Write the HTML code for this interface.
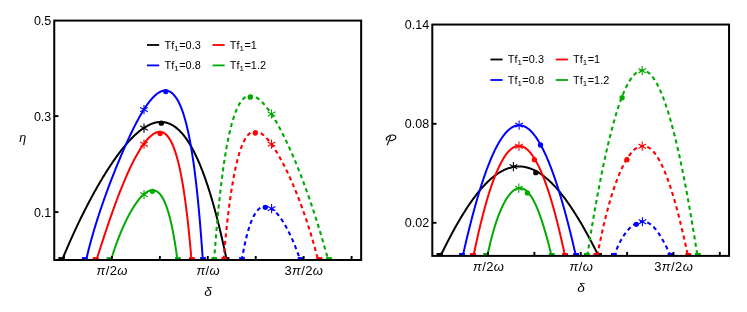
<!DOCTYPE html>
<html><head><meta charset="utf-8"><title>plot</title>
<style>html,body{margin:0;padding:0;background:#fff;}body{width:747px;height:312px;overflow:hidden;position:relative;font-family:"Liberation Sans",sans-serif;}</style>
</head><body>
<svg width="747" height="312" viewBox="0 0 747 312" style="position:absolute;left:0;top:0;will-change:transform;opacity:0.999">
<clipPath id="cl"><rect x="54.25" y="20.6" width="306.9" height="239.4"/></clipPath>
<g clip-path="url(#cl)">
<path d="M62.10 260.00 L62.11 259.99 L62.12 259.94 L62.15 259.87 L62.20 259.76 L62.25 259.63 L62.32 259.47 L62.40 259.28 L62.49 259.06 L62.59 258.81 L62.70 258.53 L62.83 258.22 L62.97 257.89 L63.12 257.52 L63.28 257.13 L63.46 256.71 L63.65 256.26 L63.84 255.78 L64.05 255.28 L64.28 254.75 L64.51 254.19 L64.76 253.60 L65.01 252.99 L65.28 252.36 L65.56 251.69 L65.86 251.00 L66.16 250.29 L66.47 249.55 L66.80 248.79 L67.14 248.00 L67.49 247.19 L67.85 246.36 L68.22 245.50 L68.61 244.62 L69.00 243.72 L69.41 242.79 L69.82 241.85 L70.25 240.88 L70.69 239.89 L71.14 238.89 L71.60 237.86 L72.07 236.81 L72.55 235.75 L73.04 234.66 L73.55 233.56 L74.06 232.44 L74.58 231.31 L75.12 230.15 L75.66 228.99 L76.21 227.80 L76.78 226.60 L77.35 225.38 L77.94 224.16 L78.53 222.91 L79.13 221.66 L79.75 220.39 L80.37 219.10 L81.00 217.81 L81.64 216.50 L82.29 215.19 L82.95 213.86 L83.62 212.52 L84.30 211.18 L84.98 209.82 L85.68 208.46 L86.38 207.08 L87.09 205.70 L87.81 204.32 L88.54 202.92 L89.28 201.52 L90.03 200.12 L90.78 198.71 L91.54 197.29 L92.31 195.87 L93.09 194.45 L93.87 193.03 L94.66 191.60 L95.46 190.17 L96.27 188.74 L97.08 187.30 L97.90 185.87 L98.73 184.44 L99.56 183.01 L100.40 181.58 L101.25 180.15 L102.10 178.72 L102.96 177.30 L103.83 175.88 L104.70 174.46 L105.58 173.05 L106.46 171.64 L107.35 170.24 L108.24 168.85 L109.14 167.46 L110.05 166.09 L110.96 164.72 L111.87 163.35 L112.79 162.00 L113.71 160.66 L114.64 159.33 L115.58 158.01 L116.51 156.70 L117.45 155.41 L118.40 154.13 L119.35 152.86 L120.30 151.61 L121.26 150.37 L122.22 149.15 L123.18 147.95 L124.15 146.76 L125.11 145.60 L126.09 144.45 L127.06 143.32 L128.04 142.21 L129.02 141.13 L130.00 140.06 L130.98 139.02 L131.97 138.01 L132.96 137.01 L133.95 136.04 L134.94 135.10 L135.93 134.19 L136.92 133.30 L137.92 132.44 L138.91 131.60 L139.91 130.80 L140.91 130.03 L141.90 129.29 L142.90 128.58 L143.90 127.90 L144.90 127.26 L145.90 126.65 L146.90 126.07 L147.89 125.53 L148.89 125.03 L149.89 124.56 L150.88 124.13 L151.88 123.73 L152.87 123.38 L153.86 123.06 L154.85 122.79 L155.84 122.55 L156.83 122.36 L157.82 122.20 L158.80 122.09 L159.78 122.02 L160.76 121.99 L161.74 122.01 L162.71 122.07 L163.69 122.17 L164.65 122.32 L165.62 122.51 L166.58 122.75 L167.54 123.03 L168.50 123.36 L169.45 123.73 L170.40 124.15 L171.35 124.61 L172.29 125.12 L173.22 125.67 L174.16 126.28 L175.09 126.92 L176.01 127.61 L176.93 128.35 L177.84 129.13 L178.75 129.96 L179.66 130.83 L180.56 131.75 L181.45 132.71 L182.34 133.71 L183.22 134.76 L184.10 135.85 L184.97 136.98 L185.84 138.16 L186.70 139.37 L187.55 140.63 L188.40 141.92 L189.24 143.26 L190.07 144.63 L190.90 146.04 L191.72 147.48 L192.53 148.96 L193.34 150.48 L194.14 152.03 L194.93 153.61 L195.71 155.22 L196.49 156.86 L197.26 158.54 L198.02 160.23 L198.77 161.96 L199.52 163.71 L200.26 165.49 L200.99 167.28 L201.71 169.10 L202.42 170.94 L203.12 172.80 L203.82 174.67 L204.50 176.56 L205.18 178.46 L205.85 180.38 L206.51 182.30 L207.16 184.24 L207.80 186.18 L208.43 188.13 L209.05 190.09 L209.67 192.04 L210.27 194.00 L210.86 195.96 L211.45 197.91 L212.02 199.86 L212.59 201.81 L213.14 203.75 L213.68 205.68 L214.22 207.60 L214.74 209.50 L215.25 211.40 L215.76 213.28 L216.25 215.14 L216.73 216.98 L217.20 218.80 L217.66 220.60 L218.11 222.38 L218.55 224.13 L218.98 225.86 L219.39 227.56 L219.80 229.23 L220.19 230.87 L220.58 232.47 L220.95 234.04 L221.31 235.58 L221.66 237.08 L222.00 238.54 L222.33 239.97 L222.64 241.35 L222.94 242.69 L223.24 243.99 L223.52 245.25 L223.79 246.46 L224.04 247.62 L224.29 248.74 L224.52 249.81 L224.75 250.83 L224.96 251.80 L225.15 252.71 L225.34 253.58 L225.52 254.40 L225.68 255.16 L225.83 255.87 L225.97 256.52 L226.10 257.12 L226.21 257.67 L226.31 258.15 L226.40 258.58 L226.48 258.96 L226.55 259.28 L226.60 259.54 L226.65 259.74 L226.68 259.88 L226.69 259.97 L226.70 260.00" stroke="#000000" stroke-width="2.0" fill="none" stroke-linejoin="round"/>
<rect x="58.30" y="257.10" width="5.8" height="5.8" fill="#000000"/>
<rect x="223.60" y="257.10" width="5.8" height="5.8" fill="#000000"/>
<path d="M86.10 260.00 L86.10 259.98 L86.12 259.93 L86.14 259.84 L86.17 259.71 L86.21 259.55 L86.25 259.35 L86.31 259.11 L86.37 258.84 L86.45 258.54 L86.53 258.20 L86.62 257.82 L86.72 257.41 L86.82 256.97 L86.94 256.49 L87.06 255.98 L87.20 255.44 L87.34 254.87 L87.49 254.26 L87.64 253.62 L87.81 252.96 L87.98 252.26 L88.17 251.54 L88.36 250.78 L88.56 250.00 L88.76 249.20 L88.98 248.36 L89.20 247.50 L89.43 246.61 L89.67 245.70 L89.92 244.77 L90.18 243.81 L90.44 242.83 L90.71 241.83 L90.99 240.81 L91.28 239.76 L91.58 238.70 L91.88 237.61 L92.19 236.51 L92.51 235.39 L92.83 234.25 L93.17 233.10 L93.51 231.93 L93.86 230.74 L94.21 229.54 L94.58 228.32 L94.95 227.09 L95.33 225.85 L95.71 224.59 L96.11 223.32 L96.51 222.03 L96.91 220.74 L97.33 219.43 L97.75 218.11 L98.18 216.78 L98.61 215.44 L99.05 214.09 L99.50 212.73 L99.95 211.36 L100.42 209.99 L100.88 208.60 L101.36 207.20 L101.84 205.80 L102.32 204.39 L102.82 202.97 L103.32 201.54 L103.82 200.11 L104.33 198.67 L104.85 197.22 L105.37 195.76 L105.90 194.30 L106.43 192.84 L106.97 191.36 L107.52 189.89 L108.07 188.40 L108.63 186.91 L109.19 185.42 L109.75 183.92 L110.32 182.42 L110.90 180.91 L111.48 179.40 L112.07 177.89 L112.66 176.37 L113.26 174.85 L113.86 173.32 L114.46 171.80 L115.07 170.27 L115.68 168.74 L116.30 167.21 L116.92 165.67 L117.55 164.14 L118.18 162.60 L118.81 161.07 L119.45 159.53 L120.09 158.00 L120.74 156.47 L121.39 154.94 L122.04 153.41 L122.69 151.88 L123.35 150.36 L124.01 148.84 L124.68 147.32 L125.35 145.81 L126.02 144.31 L126.69 142.81 L127.36 141.32 L128.04 139.83 L128.72 138.36 L129.40 136.89 L130.09 135.43 L130.78 133.98 L131.47 132.54 L132.16 131.11 L132.85 129.69 L133.54 128.29 L134.24 126.90 L134.94 125.52 L135.64 124.16 L136.34 122.82 L137.04 121.49 L137.74 120.17 L138.44 118.88 L139.15 117.60 L139.85 116.35 L140.56 115.11 L141.27 113.89 L141.97 112.70 L142.68 111.53 L143.39 110.38 L144.10 109.26 L144.80 108.16 L145.51 107.09 L146.22 106.04 L146.93 105.02 L147.63 104.03 L148.34 103.07 L149.05 102.14 L149.75 101.24 L150.46 100.37 L151.16 99.53 L151.86 98.72 L152.56 97.95 L153.26 97.21 L153.96 96.50 L154.66 95.84 L155.36 95.20 L156.05 94.61 L156.74 94.05 L157.43 93.53 L158.12 93.05 L158.81 92.61 L159.50 92.21 L160.18 91.85 L160.86 91.53 L161.54 91.25 L162.21 91.02 L162.88 90.83 L163.55 90.68 L164.22 90.58 L164.89 90.52 L165.55 90.52 L166.21 90.55 L166.86 90.64 L167.51 90.77 L168.16 90.95 L168.81 91.18 L169.45 91.46 L170.09 91.78 L170.72 92.16 L171.35 92.59 L171.98 93.08 L172.60 93.61 L173.22 94.20 L173.83 94.84 L174.44 95.53 L175.04 96.28 L175.64 97.09 L176.24 97.95 L176.83 98.86 L177.42 99.83 L178.00 100.86 L178.58 101.94 L179.15 103.08 L179.71 104.28 L180.27 105.54 L180.83 106.85 L181.38 108.22 L181.93 109.65 L182.47 111.14 L183.00 112.68 L183.53 114.29 L184.05 115.95 L184.57 117.67 L185.08 119.45 L185.58 121.28 L186.08 123.17 L186.58 125.12 L187.06 127.12 L187.54 129.18 L188.02 131.29 L188.48 133.46 L188.95 135.68 L189.40 137.95 L189.85 140.27 L190.29 142.64 L190.72 145.06 L191.15 147.52 L191.57 150.03 L191.99 152.57 L192.39 155.16 L192.79 157.79 L193.19 160.45 L193.57 163.15 L193.95 165.88 L194.32 168.63 L194.69 171.42 L195.04 174.22 L195.39 177.04 L195.73 179.88 L196.07 182.74 L196.39 185.60 L196.71 188.46 L197.02 191.33 L197.32 194.20 L197.62 197.06 L197.91 199.91 L198.19 202.75 L198.46 205.56 L198.72 208.36 L198.98 211.12 L199.23 213.86 L199.47 216.56 L199.70 219.21 L199.92 221.82 L200.14 224.38 L200.34 226.89 L200.54 229.33 L200.73 231.72 L200.92 234.03 L201.09 236.27 L201.26 238.43 L201.41 240.51 L201.56 242.50 L201.70 244.41 L201.84 246.22 L201.96 247.93 L202.08 249.54 L202.18 251.05 L202.28 252.44 L202.37 253.73 L202.45 254.90 L202.53 255.96 L202.59 256.90 L202.65 257.72 L202.69 258.41 L202.73 258.98 L202.76 259.43 L202.78 259.74 L202.80 259.94 L202.80 260.00" stroke="#0000ff" stroke-width="2.0" fill="none" stroke-linejoin="round"/>
<rect x="81.90" y="257.10" width="5.8" height="5.8" fill="#0000ff"/>
<rect x="200.10" y="257.10" width="5.8" height="5.8" fill="#0000ff"/>
<path d="M96.50 260.00 L96.50 259.99 L96.51 259.96 L96.53 259.90 L96.56 259.82 L96.59 259.72 L96.63 259.60 L96.67 259.46 L96.72 259.30 L96.78 259.11 L96.85 258.90 L96.92 258.67 L97.00 258.42 L97.09 258.15 L97.18 257.85 L97.28 257.53 L97.39 257.19 L97.51 256.83 L97.63 256.45 L97.76 256.05 L97.89 255.63 L98.03 255.18 L98.18 254.72 L98.34 254.23 L98.50 253.72 L98.67 253.19 L98.84 252.65 L99.02 252.08 L99.21 251.49 L99.41 250.88 L99.61 250.25 L99.82 249.60 L100.03 248.93 L100.25 248.24 L100.48 247.54 L100.72 246.81 L100.96 246.06 L101.20 245.30 L101.46 244.52 L101.72 243.72 L101.98 242.90 L102.25 242.06 L102.53 241.21 L102.82 240.34 L103.11 239.45 L103.40 238.54 L103.70 237.62 L104.01 236.68 L104.33 235.73 L104.65 234.76 L104.97 233.78 L105.30 232.78 L105.64 231.76 L105.98 230.74 L106.33 229.69 L106.68 228.64 L107.04 227.57 L107.41 226.49 L107.78 225.39 L108.15 224.29 L108.53 223.17 L108.92 222.04 L109.31 220.90 L109.71 219.75 L110.11 218.59 L110.51 217.42 L110.93 216.24 L111.34 215.05 L111.76 213.85 L112.19 212.65 L112.62 211.43 L113.05 210.22 L113.49 208.99 L113.94 207.76 L114.38 206.52 L114.84 205.28 L115.29 204.03 L115.75 202.78 L116.22 201.52 L116.69 200.27 L117.16 199.01 L117.64 197.74 L118.12 196.48 L118.61 195.21 L119.10 193.94 L119.59 192.68 L120.08 191.41 L120.58 190.14 L121.09 188.88 L121.59 187.62 L122.10 186.35 L122.62 185.10 L123.13 183.84 L123.65 182.59 L124.17 181.34 L124.70 180.10 L125.23 178.86 L125.76 177.63 L126.29 176.40 L126.83 175.19 L127.36 173.97 L127.90 172.77 L128.45 171.57 L128.99 170.39 L129.54 169.21 L130.09 168.04 L130.64 166.88 L131.20 165.73 L131.75 164.59 L132.31 163.46 L132.87 162.35 L133.43 161.25 L133.99 160.16 L134.56 159.08 L135.12 158.02 L135.69 156.97 L136.26 155.93 L136.83 154.91 L137.40 153.91 L137.97 152.92 L138.54 151.95 L139.11 150.99 L139.68 150.06 L140.26 149.14 L140.83 148.24 L141.41 147.35 L141.98 146.49 L142.56 145.64 L143.14 144.82 L143.71 144.02 L144.29 143.23 L144.86 142.47 L145.44 141.73 L146.02 141.02 L146.59 140.32 L147.17 139.65 L147.74 139.01 L148.32 138.38 L148.89 137.79 L149.46 137.21 L150.03 136.67 L150.60 136.15 L151.17 135.66 L151.74 135.19 L152.31 134.75 L152.88 134.34 L153.44 133.96 L154.01 133.61 L154.57 133.29 L155.13 133.00 L155.69 132.75 L156.25 132.52 L156.80 132.32 L157.36 132.16 L157.91 132.03 L158.46 131.94 L159.01 131.88 L159.55 131.85 L160.10 131.86 L160.64 131.91 L161.17 131.99 L161.71 132.11 L162.24 132.26 L162.77 132.46 L163.30 132.69 L163.83 132.96 L164.35 133.27 L164.87 133.63 L165.38 134.02 L165.90 134.45 L166.41 134.92 L166.91 135.44 L167.42 136.00 L167.92 136.60 L168.41 137.24 L168.90 137.93 L169.39 138.65 L169.88 139.43 L170.36 140.24 L170.84 141.10 L171.31 142.01 L171.78 142.95 L172.25 143.95 L172.71 144.98 L173.16 146.06 L173.62 147.19 L174.06 148.35 L174.51 149.56 L174.95 150.82 L175.38 152.12 L175.81 153.46 L176.24 154.84 L176.66 156.26 L177.07 157.73 L177.49 159.23 L177.89 160.78 L178.29 162.36 L178.69 163.99 L179.08 165.65 L179.47 167.34 L179.85 169.07 L180.22 170.84 L180.59 172.64 L180.96 174.47 L181.32 176.33 L181.67 178.21 L182.02 180.13 L182.36 182.07 L182.70 184.03 L183.03 186.02 L183.35 188.02 L183.67 190.05 L183.99 192.09 L184.30 194.14 L184.60 196.20 L184.89 198.28 L185.18 200.36 L185.47 202.45 L185.75 204.53 L186.02 206.62 L186.28 208.71 L186.54 210.79 L186.80 212.86 L187.04 214.92 L187.28 216.97 L187.52 219.00 L187.75 221.02 L187.97 223.01 L188.18 224.97 L188.39 226.91 L188.59 228.82 L188.79 230.70 L188.98 232.54 L189.16 234.35 L189.33 236.11 L189.50 237.83 L189.66 239.50 L189.82 241.12 L189.97 242.69 L190.11 244.20 L190.24 245.66 L190.37 247.06 L190.49 248.40 L190.61 249.68 L190.72 250.89 L190.82 252.03 L190.91 253.10 L191.00 254.10 L191.08 255.02 L191.15 255.87 L191.22 256.65 L191.28 257.35 L191.33 257.96 L191.37 258.50 L191.41 258.96 L191.44 259.33 L191.47 259.62 L191.49 259.83 L191.50 259.96 L191.50 260.00" stroke="#ff0000" stroke-width="2.0" fill="none" stroke-linejoin="round"/>
<rect x="92.80" y="257.10" width="5.8" height="5.8" fill="#ff0000"/>
<rect x="189.06" y="257.10" width="5.8" height="5.8" fill="#ff0000"/>
<path d="M111.00 260.00 L111.00 259.99 L111.01 259.97 L111.02 259.93 L111.04 259.87 L111.06 259.80 L111.09 259.71 L111.12 259.61 L111.16 259.49 L111.20 259.36 L111.24 259.21 L111.30 259.04 L111.35 258.86 L111.41 258.66 L111.48 258.45 L111.55 258.22 L111.62 257.98 L111.70 257.72 L111.79 257.45 L111.88 257.17 L111.97 256.87 L112.07 256.55 L112.18 256.23 L112.28 255.89 L112.40 255.53 L112.51 255.16 L112.64 254.78 L112.76 254.39 L112.90 253.98 L113.03 253.56 L113.17 253.13 L113.32 252.69 L113.47 252.23 L113.62 251.76 L113.78 251.29 L113.95 250.80 L114.12 250.30 L114.29 249.79 L114.46 249.27 L114.65 248.74 L114.83 248.20 L115.02 247.65 L115.22 247.09 L115.41 246.52 L115.62 245.95 L115.82 245.36 L116.04 244.77 L116.25 244.17 L116.47 243.57 L116.69 242.95 L116.92 242.33 L117.15 241.71 L117.39 241.07 L117.63 240.43 L117.87 239.79 L118.12 239.14 L118.37 238.48 L118.62 237.82 L118.88 237.16 L119.15 236.49 L119.41 235.82 L119.68 235.14 L119.95 234.46 L120.23 233.78 L120.51 233.09 L120.80 232.41 L121.08 231.72 L121.37 231.02 L121.67 230.33 L121.96 229.63 L122.27 228.93 L122.57 228.24 L122.88 227.54 L123.19 226.84 L123.50 226.14 L123.82 225.44 L124.14 224.74 L124.46 224.04 L124.78 223.34 L125.11 222.65 L125.44 221.95 L125.78 221.26 L126.11 220.56 L126.45 219.87 L126.79 219.18 L127.14 218.50 L127.48 217.81 L127.83 217.13 L128.18 216.46 L128.54 215.78 L128.89 215.11 L129.25 214.44 L129.61 213.78 L129.98 213.12 L130.34 212.47 L130.71 211.82 L131.08 211.17 L131.45 210.53 L131.82 209.90 L132.20 209.27 L132.57 208.65 L132.95 208.03 L133.33 207.42 L133.71 206.82 L134.09 206.22 L134.48 205.63 L134.86 205.05 L135.25 204.47 L135.64 203.90 L136.03 203.34 L136.42 202.79 L136.81 202.24 L137.21 201.71 L137.60 201.18 L137.99 200.66 L138.39 200.15 L138.79 199.65 L139.19 199.17 L139.58 198.69 L139.98 198.22 L140.38 197.76 L140.78 197.31 L141.18 196.87 L141.59 196.45 L141.99 196.03 L142.39 195.63 L142.79 195.24 L143.19 194.86 L143.60 194.49 L144.00 194.14 L144.40 193.80 L144.80 193.48 L145.21 193.16 L145.61 192.86 L146.01 192.58 L146.41 192.31 L146.81 192.05 L147.22 191.81 L147.62 191.59 L148.02 191.38 L148.42 191.19 L148.82 191.01 L149.21 190.85 L149.61 190.70 L150.01 190.57 L150.41 190.46 L150.80 190.37 L151.19 190.30 L151.59 190.24 L151.98 190.20 L152.37 190.18 L152.76 190.18 L153.15 190.20 L153.54 190.24 L153.92 190.29 L154.31 190.37 L154.69 190.46 L155.07 190.58 L155.45 190.72 L155.83 190.88 L156.20 191.05 L156.58 191.25 L156.95 191.47 L157.32 191.72 L157.69 191.98 L158.06 192.26 L158.42 192.57 L158.79 192.90 L159.15 193.25 L159.51 193.62 L159.86 194.01 L160.22 194.43 L160.57 194.87 L160.92 195.33 L161.26 195.81 L161.61 196.31 L161.95 196.84 L162.29 197.38 L162.62 197.95 L162.96 198.54 L163.29 199.15 L163.62 199.79 L163.94 200.44 L164.26 201.12 L164.58 201.81 L164.90 202.53 L165.21 203.26 L165.52 204.02 L165.83 204.79 L166.13 205.58 L166.44 206.39 L166.73 207.22 L167.03 208.07 L167.32 208.93 L167.60 209.81 L167.89 210.71 L168.17 211.62 L168.45 212.54 L168.72 213.48 L168.99 214.44 L169.25 215.40 L169.52 216.38 L169.78 217.37 L170.03 218.36 L170.28 219.37 L170.53 220.39 L170.77 221.41 L171.01 222.45 L171.25 223.48 L171.48 224.52 L171.71 225.57 L171.93 226.62 L172.15 227.67 L172.36 228.72 L172.58 229.78 L172.78 230.83 L172.99 231.88 L173.18 232.92 L173.38 233.96 L173.57 235.00 L173.75 236.03 L173.94 237.05 L174.11 238.07 L174.28 239.07 L174.45 240.06 L174.62 241.04 L174.78 242.01 L174.93 242.96 L175.08 243.90 L175.23 244.82 L175.37 245.72 L175.50 246.60 L175.64 247.47 L175.76 248.31 L175.89 249.13 L176.00 249.93 L176.12 250.70 L176.22 251.45 L176.33 252.17 L176.43 252.87 L176.52 253.53 L176.61 254.17 L176.70 254.78 L176.78 255.36 L176.85 255.91 L176.92 256.42 L176.99 256.91 L177.05 257.36 L177.10 257.77 L177.16 258.16 L177.20 258.50 L177.24 258.81 L177.28 259.09 L177.31 259.33 L177.34 259.53 L177.36 259.70 L177.38 259.83 L177.39 259.93 L177.40 259.98 L177.40 260.00" stroke="#00aa00" stroke-width="2.0" fill="none" stroke-linejoin="round"/>
<rect x="106.60" y="257.10" width="5.8" height="5.8" fill="#00aa00"/>
<rect x="175.00" y="257.10" width="5.8" height="5.8" fill="#00aa00"/>
<path d="M214.10 260.00 L214.10 259.94 L214.12 259.77 L214.14 259.49 L214.17 259.10 L214.20 258.59 L214.25 257.98 L214.31 257.25 L214.37 256.42 L214.44 255.48 L214.52 254.44 L214.61 253.29 L214.70 252.05 L214.81 250.70 L214.92 249.26 L215.04 247.72 L215.17 246.09 L215.31 244.38 L215.45 242.58 L215.61 240.70 L215.77 238.74 L215.94 236.70 L216.12 234.59 L216.31 232.42 L216.50 230.17 L216.70 227.87 L216.91 225.51 L217.13 223.09 L217.36 220.63 L217.59 218.12 L217.84 215.57 L218.09 212.97 L218.34 210.35 L218.61 207.69 L218.88 205.01 L219.16 202.30 L219.45 199.57 L219.75 196.83 L220.05 194.08 L220.37 191.32 L220.68 188.55 L221.01 185.79 L221.34 183.03 L221.69 180.27 L222.03 177.53 L222.39 174.79 L222.75 172.07 L223.12 169.38 L223.50 166.70 L223.88 164.05 L224.27 161.43 L224.67 158.83 L225.08 156.28 L225.49 153.75 L225.91 151.27 L226.33 148.82 L226.76 146.42 L227.20 144.06 L227.65 141.74 L228.10 139.48 L228.55 137.26 L229.02 135.09 L229.49 132.98 L229.96 130.92 L230.44 128.91 L230.93 126.96 L231.43 125.07 L231.93 123.23 L232.43 121.46 L232.94 119.74 L233.46 118.08 L233.98 116.48 L234.51 114.94 L235.04 113.46 L235.58 112.05 L236.12 110.69 L236.67 109.40 L237.23 108.16 L237.79 106.99 L238.35 105.88 L238.92 104.83 L239.49 103.83 L240.07 102.90 L240.65 102.03 L241.24 101.22 L241.83 100.46 L242.43 99.76 L243.03 99.12 L243.63 98.54 L244.24 98.01 L244.85 97.54 L245.47 97.12 L246.09 96.76 L246.71 96.45 L247.34 96.19 L247.97 95.98 L248.60 95.82 L249.24 95.71 L249.88 95.65 L250.52 95.64 L251.17 95.68 L251.82 95.76 L252.47 95.89 L253.13 96.06 L253.78 96.27 L254.44 96.53 L255.11 96.82 L255.77 97.16 L256.44 97.54 L257.11 97.96 L257.78 98.41 L258.46 98.91 L259.13 99.43 L259.81 100.00 L260.49 100.59 L261.17 101.23 L261.85 101.89 L262.53 102.59 L263.22 103.31 L263.90 104.07 L264.59 104.86 L265.28 105.67 L265.97 106.52 L266.66 107.39 L267.35 108.29 L268.04 109.21 L268.73 110.16 L269.42 111.14 L270.11 112.13 L270.80 113.15 L271.50 114.20 L272.19 115.26 L272.88 116.35 L273.57 117.46 L274.26 118.58 L274.95 119.73 L275.64 120.90 L276.33 122.08 L277.02 123.28 L277.71 124.50 L278.40 125.74 L279.08 126.99 L279.77 128.26 L280.45 129.54 L281.13 130.84 L281.81 132.15 L282.49 133.47 L283.17 134.81 L283.84 136.17 L284.52 137.53 L285.19 138.90 L285.86 140.29 L286.53 141.69 L287.19 143.10 L287.86 144.52 L288.52 145.95 L289.17 147.38 L289.83 148.83 L290.48 150.28 L291.13 151.75 L291.78 153.22 L292.42 154.69 L293.06 156.18 L293.70 157.67 L294.33 159.16 L294.96 160.66 L295.59 162.17 L296.21 163.68 L296.83 165.19 L297.45 166.71 L298.06 168.23 L298.67 169.76 L299.27 171.28 L299.87 172.81 L300.47 174.34 L301.06 175.87 L301.65 177.40 L302.23 178.93 L302.81 180.46 L303.38 181.99 L303.95 183.52 L304.51 185.05 L305.07 186.57 L305.63 188.09 L306.18 189.61 L306.72 191.13 L307.26 192.64 L307.79 194.14 L308.32 195.64 L308.84 197.14 L309.36 198.63 L309.87 200.11 L310.37 201.58 L310.87 203.05 L311.37 204.51 L311.86 205.96 L312.34 207.41 L312.81 208.84 L313.28 210.26 L313.75 211.67 L314.20 213.07 L314.65 214.46 L315.10 215.84 L315.54 217.20 L315.97 218.56 L316.39 219.89 L316.81 221.22 L317.22 222.53 L317.63 223.82 L318.03 225.10 L318.42 226.36 L318.80 227.61 L319.18 228.84 L319.55 230.05 L319.91 231.24 L320.27 232.42 L320.61 233.58 L320.96 234.71 L321.29 235.83 L321.62 236.93 L321.93 238.00 L322.25 239.06 L322.55 240.09 L322.85 241.10 L323.14 242.09 L323.42 243.06 L323.69 244.00 L323.96 244.92 L324.21 245.81 L324.46 246.68 L324.71 247.53 L324.94 248.35 L325.17 249.15 L325.39 249.92 L325.60 250.66 L325.80 251.38 L325.99 252.07 L326.18 252.73 L326.36 253.36 L326.53 253.97 L326.69 254.55 L326.85 255.10 L326.99 255.63 L327.13 256.12 L327.26 256.59 L327.38 257.02 L327.49 257.43 L327.60 257.81 L327.69 258.16 L327.78 258.48 L327.86 258.76 L327.93 259.02 L327.99 259.25 L328.05 259.45 L328.10 259.62 L328.13 259.76 L328.16 259.86 L328.18 259.94 L328.20 259.98 L328.20 260.00" stroke="#00aa00" stroke-width="2.1" fill="none" stroke-linejoin="round" stroke-dasharray="4.1 3.4" stroke-dashoffset="0.87"/>
<rect x="211.40" y="257.10" width="5.8" height="5.8" fill="#00aa00"/>
<rect x="326.10" y="257.10" width="5.8" height="5.8" fill="#00aa00"/>
<path d="M223.50 260.00 L223.50 259.96 L223.51 259.84 L223.53 259.64 L223.56 259.36 L223.59 259.00 L223.63 258.56 L223.67 258.05 L223.72 257.46 L223.78 256.79 L223.85 256.05 L223.92 255.23 L224.00 254.34 L224.09 253.38 L224.18 252.35 L224.28 251.25 L224.39 250.08 L224.50 248.85 L224.62 247.56 L224.75 246.21 L224.89 244.80 L225.03 243.33 L225.17 241.81 L225.33 240.23 L225.49 238.61 L225.66 236.94 L225.83 235.22 L226.01 233.46 L226.20 231.66 L226.40 229.83 L226.60 227.95 L226.80 226.05 L227.02 224.12 L227.24 222.16 L227.47 220.17 L227.70 218.17 L227.94 216.14 L228.18 214.10 L228.44 212.05 L228.69 209.98 L228.96 207.91 L229.23 205.82 L229.51 203.74 L229.79 201.65 L230.08 199.57 L230.37 197.49 L230.67 195.41 L230.98 193.34 L231.29 191.29 L231.61 189.24 L231.94 187.21 L232.27 185.20 L232.60 183.21 L232.94 181.24 L233.29 179.29 L233.64 177.36 L234.00 175.46 L234.36 173.59 L234.73 171.75 L235.10 169.94 L235.48 168.16 L235.87 166.41 L236.26 164.70 L236.65 163.03 L237.05 161.39 L237.46 159.79 L237.86 158.24 L238.28 156.72 L238.70 155.24 L239.12 153.80 L239.55 152.41 L239.98 151.06 L240.42 149.75 L240.86 148.49 L241.31 147.27 L241.76 146.10 L242.21 144.97 L242.67 143.89 L243.14 142.86 L243.60 141.87 L244.08 140.92 L244.55 140.02 L245.03 139.17 L245.51 138.36 L246.00 137.60 L246.49 136.89 L246.98 136.22 L247.48 135.59 L247.98 135.01 L248.49 134.47 L248.99 133.98 L249.51 133.53 L250.02 133.13 L250.54 132.76 L251.06 132.44 L251.58 132.16 L252.10 131.92 L252.63 131.73 L253.16 131.57 L253.70 131.45 L254.23 131.37 L254.77 131.33 L255.31 131.32 L255.86 131.35 L256.40 131.42 L256.95 131.53 L257.50 131.66 L258.05 131.84 L258.60 132.04 L259.16 132.28 L259.72 132.55 L260.27 132.85 L260.83 133.19 L261.40 133.55 L261.96 133.94 L262.52 134.36 L263.09 134.81 L263.66 135.29 L264.22 135.79 L264.79 136.32 L265.36 136.87 L265.93 137.45 L266.50 138.05 L267.07 138.67 L267.65 139.32 L268.22 139.99 L268.79 140.68 L269.37 141.39 L269.94 142.13 L270.51 142.88 L271.09 143.65 L271.66 144.44 L272.23 145.25 L272.81 146.07 L273.38 146.92 L273.95 147.77 L274.53 148.65 L275.10 149.54 L275.67 150.44 L276.24 151.36 L276.81 152.30 L277.38 153.25 L277.94 154.21 L278.51 155.18 L279.08 156.16 L279.64 157.16 L280.20 158.17 L280.77 159.19 L281.33 160.22 L281.88 161.26 L282.44 162.32 L283.00 163.38 L283.55 164.45 L284.10 165.53 L284.65 166.61 L285.20 167.71 L285.74 168.81 L286.29 169.92 L286.83 171.04 L287.37 172.17 L287.90 173.30 L288.44 174.44 L288.97 175.58 L289.50 176.73 L290.02 177.89 L290.54 179.05 L291.06 180.21 L291.58 181.38 L292.09 182.55 L292.61 183.73 L293.11 184.91 L293.62 186.10 L294.12 187.28 L294.62 188.47 L295.11 189.67 L295.60 190.86 L296.09 192.06 L296.57 193.25 L297.05 194.45 L297.52 195.65 L298.00 196.85 L298.46 198.05 L298.93 199.25 L299.39 200.45 L299.84 201.65 L300.29 202.84 L300.74 204.04 L301.18 205.23 L301.62 206.43 L302.05 207.61 L302.48 208.80 L302.90 209.98 L303.32 211.16 L303.74 212.34 L304.14 213.51 L304.55 214.67 L304.95 215.83 L305.34 216.99 L305.73 218.14 L306.12 219.28 L306.50 220.42 L306.87 221.54 L307.24 222.67 L307.60 223.78 L307.96 224.88 L308.31 225.98 L308.66 227.06 L309.00 228.14 L309.33 229.21 L309.66 230.26 L309.99 231.31 L310.31 232.34 L310.62 233.36 L310.93 234.37 L311.23 235.36 L311.52 236.34 L311.81 237.31 L312.09 238.26 L312.37 239.20 L312.64 240.13 L312.91 241.03 L313.16 241.93 L313.42 242.80 L313.66 243.66 L313.90 244.50 L314.13 245.32 L314.36 246.12 L314.58 246.91 L314.80 247.68 L315.00 248.42 L315.20 249.15 L315.40 249.85 L315.59 250.54 L315.77 251.20 L315.94 251.85 L316.11 252.47 L316.27 253.06 L316.43 253.64 L316.57 254.19 L316.71 254.72 L316.85 255.23 L316.98 255.71 L317.10 256.16 L317.21 256.60 L317.32 257.00 L317.42 257.39 L317.51 257.74 L317.60 258.07 L317.68 258.38 L317.75 258.66 L317.82 258.91 L317.88 259.14 L317.93 259.34 L317.97 259.52 L318.01 259.66 L318.04 259.78 L318.07 259.88 L318.09 259.95 L318.10 259.99 L318.10 260.00" stroke="#ff0000" stroke-width="2.1" fill="none" stroke-linejoin="round" stroke-dasharray="4.1 3.4" stroke-dashoffset="7.36"/>
<rect x="221.30" y="257.10" width="5.8" height="5.8" fill="#ff0000"/>
<rect x="316.50" y="257.10" width="5.8" height="5.8" fill="#ff0000"/>
<path d="M241.80 260.00 L241.80 259.99 L241.81 259.95 L241.82 259.88 L241.83 259.80 L241.85 259.68 L241.88 259.54 L241.91 259.38 L241.94 259.19 L241.97 258.97 L242.01 258.73 L242.06 258.47 L242.11 258.18 L242.16 257.87 L242.22 257.54 L242.28 257.18 L242.35 256.81 L242.42 256.41 L242.49 255.99 L242.57 255.54 L242.66 255.08 L242.74 254.60 L242.83 254.10 L242.93 253.58 L243.03 253.04 L243.13 252.48 L243.24 251.91 L243.35 251.32 L243.47 250.71 L243.59 250.09 L243.71 249.46 L243.84 248.81 L243.97 248.15 L244.11 247.48 L244.25 246.79 L244.39 246.10 L244.54 245.39 L244.69 244.68 L244.85 243.95 L245.01 243.22 L245.17 242.48 L245.34 241.74 L245.51 240.99 L245.68 240.23 L245.86 239.47 L246.04 238.71 L246.23 237.94 L246.42 237.17 L246.61 236.40 L246.81 235.63 L247.01 234.86 L247.21 234.09 L247.42 233.33 L247.63 232.56 L247.84 231.80 L248.06 231.03 L248.28 230.28 L248.51 229.53 L248.73 228.78 L248.96 228.04 L249.20 227.30 L249.43 226.58 L249.68 225.85 L249.92 225.14 L250.17 224.44 L250.42 223.74 L250.67 223.06 L250.92 222.38 L251.18 221.71 L251.44 221.06 L251.71 220.41 L251.98 219.78 L252.25 219.16 L252.52 218.55 L252.79 217.95 L253.07 217.37 L253.35 216.80 L253.64 216.24 L253.92 215.70 L254.21 215.17 L254.50 214.65 L254.80 214.15 L255.09 213.67 L255.39 213.20 L255.69 212.74 L255.99 212.30 L256.30 211.87 L256.60 211.46 L256.91 211.07 L257.23 210.69 L257.54 210.33 L257.85 209.98 L258.17 209.65 L258.49 209.33 L258.81 209.03 L259.13 208.75 L259.46 208.48 L259.78 208.23 L260.11 207.99 L260.44 207.77 L260.77 207.56 L261.11 207.38 L261.44 207.20 L261.77 207.05 L262.11 206.90 L262.45 206.78 L262.79 206.67 L263.13 206.57 L263.47 206.49 L263.81 206.43 L264.16 206.38 L264.50 206.34 L264.85 206.32 L265.19 206.32 L265.54 206.33 L265.89 206.35 L266.24 206.39 L266.59 206.44 L266.94 206.51 L267.29 206.59 L267.64 206.68 L267.99 206.79 L268.35 206.91 L268.70 207.05 L269.05 207.19 L269.41 207.35 L269.76 207.52 L270.11 207.71 L270.47 207.90 L270.82 208.11 L271.18 208.33 L271.53 208.56 L271.89 208.81 L272.24 209.06 L272.59 209.33 L272.95 209.60 L273.30 209.89 L273.65 210.19 L274.01 210.50 L274.36 210.82 L274.71 211.14 L275.06 211.48 L275.41 211.83 L275.76 212.18 L276.11 212.55 L276.46 212.92 L276.81 213.31 L277.15 213.70 L277.50 214.10 L277.84 214.51 L278.19 214.92 L278.53 215.35 L278.87 215.78 L279.21 216.22 L279.55 216.66 L279.89 217.11 L280.23 217.57 L280.56 218.04 L280.89 218.51 L281.23 218.99 L281.56 219.47 L281.89 219.96 L282.22 220.45 L282.54 220.95 L282.87 221.46 L283.19 221.97 L283.51 222.48 L283.83 223.00 L284.15 223.52 L284.46 224.05 L284.77 224.58 L285.09 225.12 L285.40 225.65 L285.70 226.19 L286.01 226.74 L286.31 227.28 L286.61 227.83 L286.91 228.38 L287.20 228.94 L287.50 229.49 L287.79 230.05 L288.08 230.61 L288.36 231.17 L288.65 231.73 L288.93 232.29 L289.21 232.85 L289.48 233.41 L289.75 233.97 L290.02 234.53 L290.29 235.09 L290.56 235.66 L290.82 236.22 L291.08 236.77 L291.33 237.33 L291.58 237.89 L291.83 238.44 L292.08 238.99 L292.32 239.54 L292.57 240.09 L292.80 240.63 L293.04 241.17 L293.27 241.71 L293.49 242.25 L293.72 242.78 L293.94 243.31 L294.16 243.83 L294.37 244.35 L294.58 244.86 L294.79 245.37 L294.99 245.87 L295.19 246.37 L295.39 246.87 L295.58 247.35 L295.77 247.83 L295.96 248.31 L296.14 248.78 L296.32 249.24 L296.49 249.69 L296.66 250.14 L296.83 250.58 L296.99 251.01 L297.15 251.44 L297.31 251.85 L297.46 252.26 L297.61 252.66 L297.75 253.05 L297.89 253.44 L298.03 253.81 L298.16 254.17 L298.29 254.53 L298.41 254.87 L298.53 255.21 L298.65 255.53 L298.76 255.85 L298.87 256.15 L298.97 256.44 L299.07 256.73 L299.17 257.00 L299.26 257.26 L299.34 257.51 L299.43 257.75 L299.51 257.98 L299.58 258.19 L299.65 258.40 L299.72 258.59 L299.78 258.77 L299.84 258.94 L299.89 259.09 L299.94 259.24 L299.99 259.37 L300.03 259.49 L300.06 259.60 L300.09 259.69 L300.12 259.77 L300.15 259.84 L300.17 259.90 L300.18 259.94 L300.19 259.97 L300.20 259.99 L300.20 260.00" stroke="#0000ff" stroke-width="2.1" fill="none" stroke-linejoin="round" stroke-dasharray="4.1 3.4" stroke-dashoffset="0.24"/>
<rect x="239.10" y="257.10" width="5.8" height="5.8" fill="#0000ff"/>
<rect x="297.70" y="257.10" width="5.8" height="5.8" fill="#0000ff"/>
<circle cx="161.30" cy="123.15" r="2.65" fill="#000000"/>
<path d="M144.00 123.50V132.70M140.19 125.90L147.81 130.30M147.81 125.90L140.19 130.30" stroke="#000000" stroke-width="1.1" fill="none"/>
<circle cx="165.80" cy="91.60" r="2.65" fill="#0000ff"/>
<path d="M144.00 105.00V114.20M140.19 107.40L147.81 111.80M147.81 107.40L140.19 111.80" stroke="#0000ff" stroke-width="1.1" fill="none"/>
<circle cx="160.15" cy="133.50" r="2.65" fill="#ff0000"/>
<path d="M144.00 139.60V148.80M140.19 142.00L147.81 146.40M147.81 142.00L140.19 146.40" stroke="#ff0000" stroke-width="1.1" fill="none"/>
<circle cx="152.40" cy="191.35" r="2.65" fill="#00aa00"/>
<path d="M144.00 190.00V199.20M140.19 192.40L147.81 196.80M147.81 192.40L140.19 196.80" stroke="#00aa00" stroke-width="1.1" fill="none"/>
<circle cx="250.25" cy="97.20" r="2.65" fill="#00aa00"/>
<path d="M271.50 109.40V118.60M267.69 111.80L275.31 116.20M275.31 111.80L267.69 116.20" stroke="#00aa00" stroke-width="1.1" fill="none"/>
<circle cx="255.30" cy="133.05" r="2.65" fill="#ff0000"/>
<path d="M271.50 139.50V148.70M267.69 141.90L275.31 146.30M275.31 141.90L267.69 146.30" stroke="#ff0000" stroke-width="1.1" fill="none"/>
<circle cx="265.30" cy="207.30" r="2.65" fill="#0000ff"/>
<path d="M271.60 204.00V213.20M267.79 206.40L275.41 210.80M275.41 206.40L267.79 210.80" stroke="#0000ff" stroke-width="1.1" fill="none"/>
</g>
<path d="M63.97 260.0V256.0" stroke="#000" stroke-width="1.9"/>
<path d="M111.91 260.0V256.0" stroke="#000" stroke-width="1.9"/>
<path d="M159.85 260.0V256.0" stroke="#000" stroke-width="1.9"/>
<path d="M207.79 260.0V256.0" stroke="#000" stroke-width="1.9"/>
<path d="M255.73 260.0V256.0" stroke="#000" stroke-width="1.9"/>
<path d="M303.67 260.0V256.0" stroke="#000" stroke-width="1.9"/>
<path d="M351.61 260.0V256.0" stroke="#000" stroke-width="1.9"/>
<path d="M54.25 116.1H58.45" stroke="#000" stroke-width="1.9"/>
<path d="M54.25 212.1H58.45" stroke="#000" stroke-width="1.9"/>
<rect x="54.25" y="20.6" width="306.9" height="239.4" fill="none" stroke="#000" stroke-width="2.0"/>
<clipPath id="cr"><rect x="432.3" y="24.55" width="296.74999999999994" height="231.35"/></clipPath>
<g clip-path="url(#cr)">
<path d="M440.55 255.90 L440.56 255.89 L440.57 255.85 L440.60 255.79 L440.64 255.71 L440.70 255.60 L440.76 255.47 L440.83 255.31 L440.92 255.13 L441.02 254.93 L441.13 254.70 L441.25 254.45 L441.39 254.18 L441.53 253.88 L441.69 253.56 L441.85 253.22 L442.03 252.86 L442.22 252.47 L442.43 252.06 L442.64 251.62 L442.86 251.17 L443.10 250.69 L443.35 250.19 L443.61 249.67 L443.87 249.13 L444.16 248.56 L444.45 247.98 L444.75 247.38 L445.06 246.75 L445.39 246.11 L445.72 245.44 L446.07 244.76 L446.43 244.05 L446.80 243.33 L447.18 242.59 L447.57 241.83 L447.97 241.05 L448.38 240.26 L448.80 239.45 L449.23 238.62 L449.67 237.78 L450.12 236.92 L450.59 236.04 L451.06 235.15 L451.54 234.25 L452.03 233.33 L452.54 232.39 L453.05 231.45 L453.57 230.49 L454.10 229.52 L454.64 228.54 L455.19 227.54 L455.76 226.54 L456.33 225.53 L456.90 224.50 L457.49 223.47 L458.09 222.43 L458.70 221.38 L459.31 220.33 L459.94 219.26 L460.57 218.20 L461.21 217.12 L461.86 216.04 L462.52 214.96 L463.19 213.87 L463.87 212.78 L464.55 211.69 L465.24 210.60 L465.94 209.50 L466.65 208.41 L467.37 207.32 L468.09 206.22 L468.82 205.13 L469.56 204.04 L470.30 202.96 L471.06 201.87 L471.82 200.80 L472.58 199.72 L473.36 198.66 L474.14 197.60 L474.93 196.54 L475.72 195.50 L476.52 194.46 L477.33 193.43 L478.14 192.41 L478.96 191.41 L479.79 190.41 L480.62 189.43 L481.45 188.46 L482.30 187.50 L483.14 186.55 L484.00 185.62 L484.86 184.71 L485.72 183.81 L486.59 182.93 L487.46 182.07 L488.34 181.22 L489.22 180.39 L490.11 179.58 L491.00 178.79 L491.90 178.02 L492.80 177.27 L493.70 176.55 L494.61 175.84 L495.52 175.16 L496.43 174.50 L497.35 173.86 L498.27 173.24 L499.20 172.65 L500.13 172.09 L501.06 171.55 L501.99 171.03 L502.93 170.54 L503.86 170.08 L504.80 169.65 L505.75 169.24 L506.69 168.85 L507.64 168.50 L508.59 168.17 L509.54 167.87 L510.49 167.60 L511.44 167.36 L512.40 167.14 L513.35 166.96 L514.31 166.80 L515.26 166.68 L516.22 166.58 L517.18 166.51 L518.14 166.47 L519.10 166.46 L520.05 166.47 L521.01 166.52 L521.97 166.60 L522.93 166.70 L523.89 166.84 L524.84 167.00 L525.80 167.19 L526.75 167.42 L527.71 167.66 L528.66 167.94 L529.61 168.25 L530.56 168.58 L531.51 168.94 L532.46 169.33 L533.40 169.74 L534.35 170.19 L535.29 170.65 L536.22 171.15 L537.16 171.67 L538.09 172.21 L539.02 172.78 L539.95 173.37 L540.88 173.99 L541.80 174.63 L542.72 175.29 L543.63 175.98 L544.54 176.69 L545.45 177.41 L546.35 178.16 L547.25 178.93 L548.15 179.72 L549.04 180.53 L549.93 181.36 L550.81 182.21 L551.69 183.07 L552.56 183.95 L553.43 184.84 L554.29 185.75 L555.15 186.68 L556.01 187.62 L556.85 188.57 L557.70 189.54 L558.53 190.52 L559.36 191.51 L560.19 192.51 L561.01 193.52 L561.82 194.54 L562.63 195.57 L563.43 196.61 L564.22 197.66 L565.01 198.71 L565.79 199.77 L566.57 200.84 L567.33 201.90 L568.09 202.98 L568.85 204.05 L569.59 205.13 L570.33 206.22 L571.06 207.30 L571.78 208.38 L572.50 209.47 L573.21 210.55 L573.91 211.64 L574.60 212.72 L575.28 213.80 L575.96 214.87 L576.63 215.94 L577.29 217.01 L577.94 218.07 L578.58 219.13 L579.21 220.18 L579.84 221.23 L580.45 222.27 L581.06 223.30 L581.66 224.32 L582.25 225.33 L582.82 226.34 L583.39 227.33 L583.96 228.31 L584.51 229.29 L585.05 230.25 L585.58 231.20 L586.10 232.13 L586.61 233.06 L587.12 233.97 L587.61 234.87 L588.09 235.75 L588.56 236.62 L589.03 237.47 L589.48 238.31 L589.92 239.13 L590.35 239.94 L590.77 240.73 L591.18 241.50 L591.58 242.26 L591.97 242.99 L592.35 243.71 L592.72 244.42 L593.08 245.10 L593.43 245.77 L593.76 246.41 L594.09 247.04 L594.40 247.64 L594.70 248.23 L594.99 248.80 L595.28 249.34 L595.54 249.87 L595.80 250.37 L596.05 250.86 L596.29 251.32 L596.51 251.76 L596.72 252.18 L596.93 252.58 L597.12 252.96 L597.30 253.31 L597.46 253.64 L597.62 253.95 L597.76 254.24 L597.90 254.50 L598.02 254.74 L598.13 254.96 L598.23 255.16 L598.32 255.33 L598.39 255.48 L598.45 255.61 L598.51 255.71 L598.55 255.80 L598.58 255.85 L598.59 255.89 L598.60 255.90" stroke="#000000" stroke-width="2.0" fill="none" stroke-linejoin="round"/>
<rect x="436.65" y="253.00" width="5.8" height="5.8" fill="#000000"/>
<rect x="596.10" y="253.00" width="5.8" height="5.8" fill="#000000"/>
<path d="M462.80 255.90 L462.80 255.88 L462.82 255.83 L462.84 255.73 L462.87 255.60 L462.90 255.44 L462.95 255.23 L463.00 254.99 L463.07 254.71 L463.14 254.40 L463.22 254.05 L463.30 253.66 L463.40 253.24 L463.50 252.78 L463.61 252.29 L463.73 251.76 L463.86 251.20 L464.00 250.60 L464.14 249.97 L464.30 249.30 L464.46 248.60 L464.62 247.87 L464.80 247.10 L464.99 246.30 L465.18 245.47 L465.38 244.60 L465.59 243.71 L465.81 242.79 L466.03 241.83 L466.26 240.84 L466.50 239.83 L466.75 238.79 L467.01 237.72 L467.27 236.62 L467.54 235.49 L467.82 234.34 L468.11 233.16 L468.40 231.96 L468.70 230.74 L469.01 229.49 L469.33 228.21 L469.65 226.92 L469.98 225.60 L470.32 224.26 L470.66 222.90 L471.02 221.53 L471.38 220.13 L471.74 218.72 L472.12 217.29 L472.50 215.84 L472.89 214.38 L473.28 212.90 L473.68 211.41 L474.09 209.90 L474.50 208.39 L474.92 206.86 L475.35 205.32 L475.79 203.78 L476.23 202.22 L476.67 200.66 L477.13 199.09 L477.59 197.52 L478.05 195.94 L478.52 194.35 L479.00 192.76 L479.48 191.18 L479.97 189.59 L480.47 188.00 L480.97 186.41 L481.48 184.82 L481.99 183.23 L482.51 181.65 L483.03 180.08 L483.56 178.50 L484.09 176.94 L484.63 175.38 L485.17 173.83 L485.72 172.29 L486.28 170.76 L486.84 169.25 L487.40 167.74 L487.97 166.25 L488.54 164.77 L489.12 163.30 L489.70 161.85 L490.29 160.42 L490.88 159.01 L491.47 157.61 L492.07 156.24 L492.67 154.88 L493.28 153.55 L493.89 152.23 L494.51 150.94 L495.12 149.68 L495.74 148.43 L496.37 147.22 L497.00 146.02 L497.63 144.86 L498.26 143.72 L498.90 142.61 L499.54 141.53 L500.19 140.48 L500.83 139.46 L501.48 138.47 L502.14 137.52 L502.79 136.59 L503.45 135.70 L504.11 134.84 L504.77 134.01 L505.43 133.22 L506.10 132.46 L506.77 131.74 L507.44 131.06 L508.11 130.41 L508.78 129.80 L509.46 129.22 L510.13 128.69 L510.81 128.19 L511.49 127.73 L512.17 127.30 L512.85 126.92 L513.53 126.57 L514.21 126.27 L514.90 126.00 L515.58 125.78 L516.26 125.59 L516.95 125.44 L517.64 125.34 L518.32 125.27 L519.01 125.24 L519.69 125.26 L520.38 125.31 L521.06 125.40 L521.75 125.54 L522.44 125.71 L523.12 125.92 L523.80 126.18 L524.49 126.47 L525.17 126.80 L525.85 127.17 L526.53 127.58 L527.21 128.03 L527.89 128.51 L528.57 129.04 L529.24 129.60 L529.92 130.20 L530.59 130.83 L531.26 131.50 L531.93 132.21 L532.60 132.95 L533.27 133.73 L533.93 134.54 L534.59 135.39 L535.25 136.27 L535.91 137.18 L536.56 138.13 L537.22 139.10 L537.87 140.11 L538.51 141.15 L539.16 142.21 L539.80 143.31 L540.44 144.43 L541.07 145.58 L541.70 146.76 L542.33 147.96 L542.96 149.19 L543.58 150.45 L544.19 151.72 L544.81 153.02 L545.42 154.34 L546.03 155.69 L546.63 157.05 L547.23 158.43 L547.82 159.83 L548.41 161.25 L549.00 162.69 L549.58 164.14 L550.16 165.61 L550.73 167.09 L551.30 168.58 L551.86 170.09 L552.42 171.60 L552.98 173.13 L553.53 174.67 L554.07 176.22 L554.61 177.77 L555.14 179.33 L555.67 180.90 L556.19 182.47 L556.71 184.04 L557.22 185.62 L557.73 187.20 L558.23 188.78 L558.73 190.37 L559.22 191.95 L559.70 193.53 L560.18 195.10 L560.65 196.67 L561.11 198.24 L561.57 199.81 L562.03 201.36 L562.47 202.91 L562.91 204.46 L563.35 205.99 L563.78 207.51 L564.20 209.02 L564.61 210.52 L565.02 212.01 L565.42 213.49 L565.81 214.95 L566.20 216.40 L566.58 217.83 L566.96 219.24 L567.32 220.64 L567.68 222.02 L568.04 223.38 L568.38 224.72 L568.72 226.05 L569.05 227.35 L569.37 228.63 L569.69 229.88 L570.00 231.12 L570.30 232.33 L570.59 233.51 L570.88 234.67 L571.16 235.81 L571.43 236.92 L571.69 238.00 L571.95 239.06 L572.20 240.08 L572.44 241.08 L572.67 242.05 L572.89 242.99 L573.11 243.91 L573.32 244.79 L573.52 245.64 L573.71 246.45 L573.90 247.24 L574.08 248.00 L574.24 248.72 L574.40 249.41 L574.56 250.06 L574.70 250.69 L574.84 251.28 L574.97 251.83 L575.09 252.35 L575.20 252.84 L575.30 253.29 L575.40 253.70 L575.48 254.08 L575.56 254.43 L575.63 254.73 L575.70 255.01 L575.75 255.24 L575.80 255.44 L575.83 255.61 L575.86 255.74 L575.88 255.83 L575.90 255.88 L575.90 255.90" stroke="#0000ff" stroke-width="2.0" fill="none" stroke-linejoin="round"/>
<rect x="459.10" y="253.00" width="5.8" height="5.8" fill="#0000ff"/>
<rect x="573.15" y="253.00" width="5.8" height="5.8" fill="#0000ff"/>
<path d="M473.50 255.90 L473.50 255.88 L473.51 255.83 L473.53 255.75 L473.55 255.64 L473.58 255.49 L473.62 255.31 L473.66 255.10 L473.72 254.85 L473.77 254.57 L473.84 254.26 L473.91 253.92 L473.98 253.55 L474.07 253.14 L474.16 252.71 L474.26 252.24 L474.36 251.74 L474.47 251.22 L474.59 250.66 L474.71 250.07 L474.84 249.45 L474.98 248.81 L475.12 248.13 L475.27 247.43 L475.42 246.70 L475.59 245.94 L475.76 245.16 L475.93 244.34 L476.11 243.51 L476.30 242.64 L476.50 241.76 L476.70 240.84 L476.90 239.91 L477.12 238.95 L477.34 237.97 L477.56 236.96 L477.79 235.94 L478.03 234.89 L478.27 233.82 L478.52 232.74 L478.78 231.63 L479.04 230.51 L479.31 229.37 L479.58 228.21 L479.86 227.04 L480.15 225.85 L480.44 224.64 L480.74 223.42 L481.04 222.19 L481.35 220.94 L481.66 219.69 L481.98 218.42 L482.30 217.14 L482.63 215.85 L482.97 214.56 L483.31 213.25 L483.65 211.94 L484.01 210.62 L484.36 209.30 L484.72 207.97 L485.09 206.63 L485.46 205.30 L485.84 203.96 L486.22 202.62 L486.61 201.27 L487.00 199.93 L487.39 198.59 L487.79 197.25 L488.20 195.91 L488.61 194.58 L489.02 193.25 L489.44 191.92 L489.87 190.60 L490.29 189.29 L490.73 187.98 L491.16 186.68 L491.60 185.39 L492.05 184.10 L492.49 182.83 L492.95 181.57 L493.40 180.32 L493.86 179.08 L494.33 177.86 L494.79 176.65 L495.26 175.45 L495.74 174.27 L496.21 173.11 L496.70 171.96 L497.18 170.83 L497.67 169.72 L498.16 168.62 L498.65 167.55 L499.15 166.49 L499.65 165.46 L500.15 164.44 L500.66 163.45 L501.17 162.48 L501.68 161.53 L502.19 160.61 L502.71 159.71 L503.23 158.83 L503.75 157.98 L504.27 157.16 L504.80 156.36 L505.32 155.59 L505.85 154.84 L506.38 154.12 L506.92 153.43 L507.45 152.77 L507.99 152.13 L508.53 151.53 L509.07 150.95 L509.61 150.41 L510.15 149.89 L510.70 149.40 L511.24 148.95 L511.79 148.52 L512.34 148.13 L512.89 147.76 L513.44 147.43 L513.99 147.13 L514.54 146.86 L515.09 146.62 L515.65 146.42 L516.20 146.25 L516.75 146.11 L517.31 146.00 L517.86 145.92 L518.42 145.88 L518.97 145.87 L519.53 145.89 L520.08 145.94 L520.64 146.03 L521.19 146.15 L521.75 146.30 L522.30 146.48 L522.85 146.69 L523.41 146.94 L523.96 147.22 L524.51 147.53 L525.06 147.87 L525.61 148.24 L526.16 148.64 L526.71 149.08 L527.26 149.54 L527.80 150.03 L528.35 150.56 L528.89 151.11 L529.43 151.69 L529.97 152.30 L530.51 152.94 L531.05 153.61 L531.58 154.31 L532.12 155.03 L532.65 155.78 L533.18 156.55 L533.70 157.35 L534.23 158.18 L534.75 159.03 L535.27 159.91 L535.79 160.81 L536.31 161.73 L536.82 162.68 L537.33 163.65 L537.84 164.64 L538.35 165.65 L538.85 166.68 L539.35 167.73 L539.85 168.80 L540.34 169.89 L540.83 171.00 L541.32 172.13 L541.80 173.27 L542.29 174.43 L542.76 175.60 L543.24 176.79 L543.71 177.99 L544.17 179.20 L544.64 180.43 L545.10 181.67 L545.55 182.92 L546.01 184.18 L546.45 185.45 L546.90 186.73 L547.34 188.02 L547.77 189.31 L548.21 190.62 L548.63 191.92 L549.06 193.24 L549.48 194.55 L549.89 195.87 L550.30 197.20 L550.71 198.52 L551.11 199.85 L551.50 201.18 L551.89 202.50 L552.28 203.83 L552.66 205.15 L553.04 206.47 L553.41 207.79 L553.78 209.11 L554.14 210.42 L554.49 211.72 L554.85 213.02 L555.19 214.31 L555.53 215.59 L555.87 216.86 L556.20 218.13 L556.52 219.38 L556.84 220.62 L557.15 221.86 L557.46 223.07 L557.76 224.28 L558.06 225.47 L558.35 226.65 L558.64 227.82 L558.92 228.96 L559.19 230.10 L559.46 231.21 L559.72 232.31 L559.98 233.39 L560.23 234.45 L560.47 235.49 L560.71 236.51 L560.94 237.51 L561.16 238.48 L561.38 239.44 L561.60 240.37 L561.80 241.28 L562.00 242.17 L562.20 243.03 L562.39 243.87 L562.57 244.69 L562.74 245.48 L562.91 246.24 L563.08 246.98 L563.23 247.69 L563.38 248.37 L563.52 249.02 L563.66 249.65 L563.79 250.25 L563.91 250.82 L564.03 251.36 L564.14 251.87 L564.24 252.35 L564.34 252.81 L564.43 253.23 L564.52 253.62 L564.59 253.98 L564.66 254.32 L564.73 254.62 L564.78 254.88 L564.84 255.12 L564.88 255.33 L564.92 255.50 L564.95 255.65 L564.97 255.76 L564.99 255.84 L565.00 255.88 L565.00 255.90" stroke="#ff0000" stroke-width="2.0" fill="none" stroke-linejoin="round"/>
<rect x="470.10" y="253.00" width="5.8" height="5.8" fill="#ff0000"/>
<rect x="562.15" y="253.00" width="5.8" height="5.8" fill="#ff0000"/>
<path d="M487.40 255.90 L487.40 255.89 L487.41 255.85 L487.42 255.80 L487.44 255.72 L487.46 255.61 L487.48 255.49 L487.52 255.34 L487.55 255.17 L487.59 254.98 L487.64 254.76 L487.69 254.52 L487.74 254.27 L487.80 253.99 L487.86 253.68 L487.93 253.36 L488.00 253.02 L488.08 252.66 L488.16 252.27 L488.25 251.87 L488.34 251.45 L488.44 251.01 L488.54 250.55 L488.64 250.07 L488.75 249.58 L488.86 249.07 L488.98 248.54 L489.11 247.99 L489.23 247.43 L489.37 246.85 L489.50 246.26 L489.64 245.66 L489.79 245.04 L489.94 244.41 L490.09 243.76 L490.25 243.10 L490.41 242.43 L490.58 241.75 L490.75 241.06 L490.93 240.35 L491.10 239.64 L491.29 238.92 L491.48 238.19 L491.67 237.45 L491.86 236.70 L492.06 235.95 L492.27 235.19 L492.48 234.42 L492.69 233.64 L492.90 232.87 L493.12 232.08 L493.35 231.30 L493.58 230.51 L493.81 229.71 L494.04 228.91 L494.28 228.11 L494.53 227.31 L494.77 226.51 L495.02 225.71 L495.28 224.90 L495.53 224.10 L495.79 223.29 L496.06 222.49 L496.33 221.69 L496.60 220.89 L496.87 220.09 L497.15 219.30 L497.43 218.50 L497.71 217.71 L498.00 216.93 L498.29 216.15 L498.59 215.37 L498.88 214.60 L499.18 213.83 L499.49 213.07 L499.79 212.31 L500.10 211.56 L500.41 210.82 L500.73 210.08 L501.04 209.35 L501.36 208.63 L501.69 207.92 L502.01 207.21 L502.34 206.51 L502.67 205.82 L503.00 205.14 L503.34 204.47 L503.68 203.81 L504.02 203.16 L504.36 202.52 L504.70 201.89 L505.05 201.27 L505.40 200.66 L505.75 200.06 L506.10 199.48 L506.46 198.90 L506.81 198.34 L507.17 197.79 L507.53 197.25 L507.89 196.73 L508.26 196.22 L508.62 195.72 L508.99 195.23 L509.36 194.76 L509.73 194.30 L510.10 193.86 L510.47 193.43 L510.85 193.02 L511.22 192.62 L511.60 192.24 L511.98 191.87 L512.36 191.52 L512.74 191.18 L513.12 190.86 L513.50 190.56 L513.88 190.27 L514.27 190.00 L514.65 189.74 L515.04 189.51 L515.42 189.29 L515.81 189.08 L516.20 188.90 L516.58 188.73 L516.97 188.58 L517.36 188.45 L517.75 188.34 L518.14 188.25 L518.53 188.17 L518.92 188.12 L519.31 188.08 L519.69 188.06 L520.08 188.06 L520.47 188.08 L520.86 188.12 L521.25 188.17 L521.64 188.25 L522.03 188.35 L522.42 188.46 L522.80 188.60 L523.19 188.75 L523.58 188.93 L523.96 189.12 L524.35 189.34 L524.73 189.57 L525.12 189.82 L525.50 190.09 L525.88 190.38 L526.26 190.69 L526.64 191.02 L527.02 191.37 L527.40 191.73 L527.78 192.12 L528.15 192.52 L528.53 192.94 L528.90 193.38 L529.27 193.84 L529.64 194.31 L530.01 194.81 L530.38 195.32 L530.74 195.84 L531.11 196.38 L531.47 196.94 L531.83 197.52 L532.19 198.11 L532.54 198.71 L532.90 199.33 L533.25 199.97 L533.60 200.62 L533.95 201.28 L534.30 201.96 L534.64 202.65 L534.98 203.35 L535.32 204.06 L535.66 204.79 L536.00 205.52 L536.33 206.27 L536.66 207.03 L536.99 207.79 L537.31 208.57 L537.64 209.35 L537.96 210.14 L538.27 210.94 L538.59 211.75 L538.90 212.56 L539.21 213.38 L539.51 214.20 L539.82 215.03 L540.12 215.86 L540.41 216.70 L540.71 217.54 L541.00 218.38 L541.29 219.23 L541.57 220.07 L541.85 220.92 L542.13 221.76 L542.40 222.61 L542.67 223.45 L542.94 224.30 L543.21 225.14 L543.47 225.98 L543.72 226.81 L543.98 227.65 L544.23 228.48 L544.47 229.30 L544.72 230.12 L544.96 230.93 L545.19 231.74 L545.42 232.54 L545.65 233.33 L545.88 234.12 L546.10 234.89 L546.31 235.66 L546.52 236.42 L546.73 237.17 L546.94 237.91 L547.14 238.64 L547.33 239.36 L547.52 240.07 L547.71 240.76 L547.90 241.45 L548.07 242.12 L548.25 242.78 L548.42 243.42 L548.59 244.06 L548.75 244.68 L548.91 245.28 L549.06 245.87 L549.21 246.45 L549.36 247.01 L549.50 247.55 L549.63 248.09 L549.77 248.60 L549.89 249.10 L550.02 249.58 L550.14 250.05 L550.25 250.50 L550.36 250.93 L550.46 251.35 L550.56 251.74 L550.66 252.13 L550.75 252.49 L550.84 252.83 L550.92 253.16 L551.00 253.47 L551.07 253.76 L551.14 254.04 L551.20 254.29 L551.26 254.53 L551.31 254.75 L551.36 254.95 L551.41 255.13 L551.45 255.29 L551.48 255.43 L551.52 255.56 L551.54 255.66 L551.56 255.75 L551.58 255.81 L551.59 255.86 L551.60 255.89 L551.60 255.90" stroke="#00aa00" stroke-width="2.0" fill="none" stroke-linejoin="round"/>
<rect x="483.20" y="253.00" width="5.8" height="5.8" fill="#00aa00"/>
<rect x="548.90" y="253.00" width="5.8" height="5.8" fill="#00aa00"/>
<path d="M587.25 255.90 L587.25 255.87 L587.27 255.80 L587.29 255.67 L587.31 255.48 L587.35 255.25 L587.40 254.96 L587.45 254.63 L587.51 254.24 L587.58 253.80 L587.65 253.31 L587.74 252.77 L587.83 252.17 L587.93 251.53 L588.04 250.84 L588.16 250.10 L588.28 249.31 L588.42 248.47 L588.56 247.58 L588.71 246.64 L588.86 245.66 L589.03 244.63 L589.20 243.55 L589.38 242.43 L589.57 241.26 L589.76 240.05 L589.97 238.80 L590.18 237.50 L590.40 236.16 L590.62 234.77 L590.86 233.35 L591.10 231.88 L591.35 230.38 L591.61 228.84 L591.87 227.25 L592.14 225.64 L592.42 223.98 L592.71 222.29 L593.00 220.57 L593.30 218.81 L593.61 217.02 L593.92 215.19 L594.25 213.34 L594.58 211.46 L594.91 209.55 L595.26 207.61 L595.61 205.64 L595.96 203.65 L596.33 201.64 L596.70 199.60 L597.08 197.54 L597.46 195.46 L597.85 193.35 L598.25 191.23 L598.65 189.10 L599.06 186.94 L599.48 184.78 L599.90 182.59 L600.33 180.40 L600.77 178.19 L601.21 175.98 L601.66 173.75 L602.11 171.52 L602.57 169.28 L603.04 167.04 L603.51 164.79 L603.98 162.55 L604.47 160.30 L604.95 158.05 L605.45 155.80 L605.95 153.56 L606.45 151.32 L606.96 149.09 L607.48 146.86 L608.00 144.64 L608.52 142.43 L609.05 140.24 L609.59 138.05 L610.13 135.88 L610.67 133.73 L611.22 131.59 L611.77 129.47 L612.33 127.37 L612.89 125.28 L613.46 123.22 L614.03 121.19 L614.61 119.17 L615.19 117.19 L615.77 115.23 L616.36 113.29 L616.95 111.39 L617.54 109.52 L618.14 107.67 L618.74 105.87 L619.35 104.09 L619.96 102.35 L620.57 100.65 L621.19 98.98 L621.81 97.35 L622.43 95.76 L623.05 94.21 L623.68 92.70 L624.31 91.24 L624.94 89.81 L625.58 88.44 L626.22 87.10 L626.86 85.82 L627.50 84.57 L628.14 83.38 L628.79 82.24 L629.44 81.14 L630.09 80.09 L630.74 79.10 L631.40 78.16 L632.05 77.26 L632.71 76.42 L633.37 75.64 L634.03 74.90 L634.69 74.22 L635.35 73.60 L636.01 73.03 L636.68 72.51 L637.34 72.05 L638.01 71.65 L638.68 71.30 L639.34 71.01 L640.01 70.77 L640.68 70.59 L641.35 70.47 L642.02 70.40 L642.68 70.40 L643.35 70.45 L644.02 70.55 L644.69 70.71 L645.36 70.93 L646.02 71.21 L646.69 71.54 L647.36 71.93 L648.02 72.37 L648.69 72.87 L649.35 73.43 L650.01 74.04 L650.67 74.71 L651.33 75.42 L651.99 76.20 L652.65 77.02 L653.30 77.90 L653.96 78.83 L654.61 79.81 L655.26 80.85 L655.91 81.93 L656.56 83.06 L657.20 84.24 L657.84 85.47 L658.48 86.75 L659.12 88.07 L659.76 89.44 L660.39 90.85 L661.02 92.31 L661.65 93.80 L662.27 95.34 L662.89 96.92 L663.51 98.55 L664.13 100.20 L664.74 101.90 L665.35 103.63 L665.96 105.40 L666.56 107.21 L667.16 109.04 L667.75 110.91 L668.34 112.81 L668.93 114.74 L669.51 116.69 L670.09 118.68 L670.67 120.69 L671.24 122.72 L671.81 124.78 L672.37 126.86 L672.93 128.96 L673.48 131.08 L674.03 133.22 L674.57 135.38 L675.11 137.55 L675.65 139.73 L676.18 141.93 L676.70 144.14 L677.22 146.36 L677.74 148.59 L678.25 150.83 L678.75 153.07 L679.25 155.32 L679.75 157.57 L680.23 159.82 L680.72 162.08 L681.19 164.33 L681.66 166.58 L682.13 168.83 L682.59 171.08 L683.04 173.31 L683.49 175.55 L683.93 177.77 L684.37 179.98 L684.80 182.18 L685.22 184.37 L685.64 186.55 L686.05 188.71 L686.45 190.86 L686.85 192.99 L687.24 195.10 L687.62 197.19 L688.00 199.26 L688.37 201.31 L688.74 203.33 L689.09 205.33 L689.44 207.31 L689.79 209.26 L690.12 211.18 L690.45 213.07 L690.78 214.93 L691.09 216.77 L691.40 218.57 L691.70 220.33 L691.99 222.07 L692.28 223.77 L692.56 225.43 L692.83 227.06 L693.09 228.65 L693.35 230.21 L693.60 231.72 L693.84 233.19 L694.08 234.63 L694.30 236.02 L694.52 237.37 L694.73 238.68 L694.94 239.94 L695.13 241.16 L695.32 242.34 L695.50 243.46 L695.67 244.55 L695.84 245.59 L695.99 246.58 L696.14 247.52 L696.28 248.41 L696.42 249.26 L696.54 250.05 L696.66 250.80 L696.77 251.50 L696.87 252.15 L696.96 252.74 L697.05 253.29 L697.12 253.78 L697.19 254.23 L697.25 254.62 L697.30 254.96 L697.35 255.24 L697.39 255.48 L697.41 255.66 L697.43 255.80 L697.45 255.87 L697.45 255.90" stroke="#00aa00" stroke-width="2.1" fill="none" stroke-linejoin="round" stroke-dasharray="4.1 3.4" stroke-dashoffset="7.35"/>
<rect x="584.00" y="253.00" width="5.8" height="5.8" fill="#00aa00"/>
<rect x="695.00" y="253.00" width="5.8" height="5.8" fill="#00aa00"/>
<path d="M597.30 255.90 L597.30 255.88 L597.31 255.83 L597.33 255.74 L597.35 255.61 L597.38 255.45 L597.42 255.26 L597.46 255.03 L597.51 254.76 L597.57 254.46 L597.63 254.13 L597.70 253.76 L597.78 253.35 L597.86 252.92 L597.95 252.44 L598.05 251.94 L598.15 251.41 L598.26 250.84 L598.38 250.24 L598.50 249.61 L598.63 248.95 L598.76 248.26 L598.91 247.54 L599.05 246.79 L599.21 246.01 L599.37 245.21 L599.54 244.37 L599.71 243.52 L599.89 242.63 L600.08 241.72 L600.27 240.79 L600.47 239.83 L600.67 238.85 L600.88 237.85 L601.10 236.83 L601.33 235.78 L601.56 234.72 L601.79 233.63 L602.03 232.53 L602.28 231.41 L602.53 230.27 L602.79 229.12 L603.06 227.95 L603.33 226.77 L603.61 225.57 L603.89 224.36 L604.18 223.14 L604.47 221.91 L604.77 220.66 L605.08 219.41 L605.39 218.15 L605.70 216.88 L606.03 215.60 L606.35 214.31 L606.69 213.02 L607.02 211.72 L607.37 210.42 L607.71 209.12 L608.07 207.81 L608.43 206.50 L608.79 205.19 L609.16 203.88 L609.53 202.57 L609.91 201.26 L610.29 199.95 L610.68 198.64 L611.07 197.34 L611.47 196.04 L611.87 194.74 L612.28 193.45 L612.69 192.16 L613.10 190.88 L613.52 189.61 L613.95 188.35 L614.37 187.09 L614.81 185.84 L615.24 184.60 L615.68 183.37 L616.13 182.15 L616.58 180.95 L617.03 179.75 L617.48 178.57 L617.94 177.40 L618.41 176.24 L618.87 175.10 L619.34 173.97 L619.82 172.86 L620.29 171.76 L620.77 170.68 L621.26 169.62 L621.74 168.57 L622.23 167.54 L622.73 166.53 L623.22 165.53 L623.72 164.56 L624.22 163.61 L624.73 162.67 L625.23 161.76 L625.74 160.87 L626.25 160.00 L626.77 159.15 L627.28 158.33 L627.80 157.52 L628.32 156.74 L628.85 155.99 L629.37 155.26 L629.90 154.55 L630.43 153.87 L630.96 153.21 L631.49 152.58 L632.02 151.98 L632.56 151.40 L633.10 150.85 L633.63 150.32 L634.17 149.83 L634.71 149.36 L635.26 148.92 L635.80 148.51 L636.34 148.12 L636.89 147.77 L637.44 147.44 L637.98 147.15 L638.53 146.88 L639.08 146.65 L639.63 146.44 L640.18 146.27 L640.73 146.13 L641.28 146.01 L641.82 145.93 L642.37 145.88 L642.93 145.86 L643.48 145.88 L644.02 145.92 L644.57 146.00 L645.12 146.10 L645.67 146.24 L646.22 146.41 L646.77 146.62 L647.32 146.85 L647.86 147.12 L648.41 147.42 L648.96 147.75 L649.50 148.11 L650.04 148.50 L650.59 148.93 L651.13 149.38 L651.67 149.87 L652.20 150.39 L652.74 150.94 L653.28 151.51 L653.81 152.12 L654.34 152.76 L654.87 153.43 L655.40 154.12 L655.93 154.85 L656.45 155.60 L656.98 156.39 L657.50 157.20 L658.02 158.03 L658.53 158.89 L659.05 159.78 L659.56 160.70 L660.07 161.64 L660.57 162.60 L661.08 163.59 L661.58 164.60 L662.08 165.64 L662.57 166.69 L663.07 167.77 L663.56 168.87 L664.04 169.99 L664.53 171.13 L665.01 172.29 L665.48 173.46 L665.96 174.65 L666.43 175.86 L666.89 177.09 L667.36 178.32 L667.82 179.58 L668.27 180.84 L668.72 182.12 L669.17 183.41 L669.62 184.71 L670.06 186.02 L670.49 187.34 L670.93 188.67 L671.35 190.00 L671.78 191.35 L672.20 192.69 L672.61 194.04 L673.02 195.40 L673.43 196.76 L673.83 198.12 L674.23 199.48 L674.62 200.84 L675.01 202.20 L675.39 203.56 L675.77 204.92 L676.14 206.27 L676.51 207.62 L676.87 208.96 L677.23 210.30 L677.59 211.64 L677.93 212.96 L678.28 214.28 L678.61 215.58 L678.95 216.88 L679.27 218.17 L679.60 219.45 L679.91 220.71 L680.22 221.96 L680.53 223.20 L680.83 224.42 L681.12 225.63 L681.41 226.82 L681.69 227.99 L681.97 229.15 L682.24 230.29 L682.51 231.41 L682.77 232.52 L683.02 233.60 L683.27 234.66 L683.51 235.71 L683.74 236.73 L683.97 237.73 L684.20 238.71 L684.42 239.66 L684.63 240.59 L684.83 241.50 L685.03 242.38 L685.22 243.24 L685.41 244.07 L685.59 244.88 L685.76 245.66 L685.93 246.41 L686.09 247.14 L686.25 247.84 L686.39 248.51 L686.54 249.16 L686.67 249.78 L686.80 250.37 L686.92 250.93 L687.04 251.46 L687.15 251.96 L687.25 252.43 L687.35 252.88 L687.44 253.29 L687.52 253.67 L687.60 254.03 L687.67 254.35 L687.73 254.65 L687.79 254.91 L687.84 255.14 L687.88 255.34 L687.92 255.51 L687.95 255.65 L687.97 255.76 L687.99 255.84 L688.00 255.88 L688.00 255.90" stroke="#ff0000" stroke-width="2.1" fill="none" stroke-linejoin="round" stroke-dasharray="4.1 3.4" stroke-dashoffset="7.15"/>
<rect x="593.50" y="253.00" width="5.8" height="5.8" fill="#ff0000"/>
<rect x="685.40" y="253.00" width="5.8" height="5.8" fill="#ff0000"/>
<path d="M614.20 255.90 L614.20 255.89 L614.21 255.88 L614.22 255.85 L614.23 255.80 L614.25 255.75 L614.28 255.68 L614.30 255.60 L614.33 255.51 L614.37 255.41 L614.41 255.30 L614.45 255.17 L614.50 255.04 L614.55 254.89 L614.61 254.73 L614.67 254.56 L614.73 254.38 L614.80 254.19 L614.87 253.99 L614.95 253.77 L615.03 253.55 L615.11 253.32 L615.20 253.08 L615.30 252.83 L615.39 252.57 L615.49 252.30 L615.60 252.03 L615.71 251.74 L615.82 251.45 L615.94 251.15 L616.06 250.84 L616.18 250.53 L616.31 250.20 L616.44 249.88 L616.58 249.54 L616.72 249.20 L616.86 248.85 L617.01 248.50 L617.16 248.14 L617.31 247.78 L617.47 247.41 L617.63 247.04 L617.80 246.66 L617.97 246.28 L618.14 245.90 L618.32 245.52 L618.50 245.13 L618.68 244.73 L618.87 244.34 L619.06 243.94 L619.26 243.54 L619.45 243.14 L619.65 242.74 L619.86 242.34 L620.07 241.93 L620.28 241.53 L620.49 241.12 L620.71 240.71 L620.93 240.31 L621.16 239.90 L621.38 239.50 L621.61 239.09 L621.85 238.69 L622.08 238.28 L622.32 237.88 L622.56 237.48 L622.81 237.08 L623.06 236.68 L623.31 236.28 L623.56 235.89 L623.82 235.50 L624.08 235.11 L624.34 234.72 L624.61 234.34 L624.87 233.96 L625.14 233.58 L625.42 233.20 L625.69 232.83 L625.97 232.46 L626.25 232.10 L626.53 231.74 L626.82 231.38 L627.10 231.03 L627.39 230.68 L627.69 230.33 L627.98 229.99 L628.28 229.66 L628.57 229.33 L628.87 229.00 L629.18 228.68 L629.48 228.37 L629.79 228.06 L630.09 227.75 L630.40 227.45 L630.72 227.16 L631.03 226.87 L631.34 226.59 L631.66 226.31 L631.98 226.04 L632.30 225.78 L632.62 225.52 L632.94 225.27 L633.27 225.03 L633.59 224.79 L633.92 224.57 L634.25 224.34 L634.58 224.13 L634.91 223.92 L635.24 223.72 L635.57 223.53 L635.91 223.35 L636.24 223.17 L636.58 223.00 L636.91 222.84 L637.25 222.69 L637.59 222.55 L637.93 222.41 L638.27 222.29 L638.61 222.17 L638.95 222.06 L639.29 221.96 L639.63 221.87 L639.97 221.79 L640.32 221.72 L640.66 221.66 L641.00 221.61 L641.35 221.57 L641.69 221.54 L642.03 221.52 L642.38 221.50 L642.72 221.50 L643.07 221.51 L643.41 221.53 L643.75 221.56 L644.10 221.60 L644.44 221.65 L644.78 221.71 L645.13 221.78 L645.47 221.86 L645.81 221.95 L646.15 222.05 L646.49 222.17 L646.83 222.29 L647.17 222.43 L647.51 222.57 L647.85 222.72 L648.19 222.89 L648.52 223.06 L648.86 223.25 L649.19 223.45 L649.53 223.65 L649.86 223.87 L650.19 224.09 L650.52 224.33 L650.85 224.57 L651.18 224.83 L651.51 225.09 L651.83 225.36 L652.16 225.65 L652.48 225.94 L652.80 226.24 L653.12 226.54 L653.44 226.86 L653.76 227.18 L654.07 227.51 L654.38 227.85 L654.70 228.20 L655.01 228.55 L655.31 228.91 L655.62 229.28 L655.92 229.65 L656.23 230.03 L656.53 230.42 L656.82 230.81 L657.12 231.20 L657.41 231.60 L657.71 232.01 L658.00 232.41 L658.28 232.83 L658.57 233.24 L658.85 233.66 L659.13 234.08 L659.41 234.51 L659.68 234.94 L659.96 235.36 L660.23 235.79 L660.49 236.23 L660.76 236.66 L661.02 237.09 L661.28 237.53 L661.54 237.96 L661.79 238.39 L662.04 238.83 L662.29 239.26 L662.54 239.69 L662.78 240.12 L663.02 240.55 L663.25 240.97 L663.49 241.40 L663.72 241.82 L663.94 242.24 L664.17 242.65 L664.39 243.06 L664.61 243.47 L664.82 243.88 L665.03 244.28 L665.24 244.67 L665.45 245.06 L665.65 245.45 L665.84 245.83 L666.04 246.21 L666.23 246.58 L666.42 246.94 L666.60 247.30 L666.78 247.66 L666.96 248.01 L667.13 248.35 L667.30 248.68 L667.47 249.01 L667.63 249.33 L667.79 249.65 L667.94 249.96 L668.09 250.26 L668.24 250.55 L668.38 250.84 L668.52 251.12 L668.66 251.39 L668.79 251.66 L668.92 251.92 L669.04 252.16 L669.16 252.41 L669.28 252.64 L669.39 252.87 L669.50 253.09 L669.61 253.30 L669.71 253.50 L669.80 253.69 L669.90 253.88 L669.99 254.06 L670.07 254.23 L670.15 254.39 L670.23 254.55 L670.30 254.69 L670.37 254.83 L670.43 254.96 L670.49 255.08 L670.55 255.19 L670.60 255.30 L670.65 255.39 L670.69 255.48 L670.73 255.56 L670.77 255.63 L670.80 255.69 L670.82 255.75 L670.85 255.80 L670.87 255.83 L670.88 255.86 L670.89 255.88 L670.90 255.90 L670.90 255.90" stroke="#0000ff" stroke-width="2.1" fill="none" stroke-linejoin="round" stroke-dasharray="4.1 3.4" stroke-dashoffset="0.74"/>
<rect x="611.00" y="253.00" width="5.8" height="5.8" fill="#0000ff"/>
<rect x="667.60" y="253.00" width="5.8" height="5.8" fill="#0000ff"/>
<circle cx="535.80" cy="172.65" r="2.65" fill="#000000"/>
<path d="M513.40 162.00V171.20M509.59 164.40L517.21 168.80M517.21 164.40L509.59 168.80" stroke="#000000" stroke-width="1.1" fill="none"/>
<circle cx="540.50" cy="145.00" r="2.65" fill="#0000ff"/>
<path d="M519.07 120.50V129.70M515.26 122.90L522.88 127.30M522.88 122.90L515.26 127.30" stroke="#0000ff" stroke-width="1.1" fill="none"/>
<circle cx="534.40" cy="159.70" r="2.65" fill="#ff0000"/>
<path d="M519.00 141.60V150.80M515.19 144.00L522.81 148.40M522.81 144.00L515.19 148.40" stroke="#ff0000" stroke-width="1.1" fill="none"/>
<circle cx="527.40" cy="192.90" r="2.65" fill="#00aa00"/>
<path d="M518.80 183.60V192.80M514.99 186.00L522.61 190.40M522.61 186.00L514.99 190.40" stroke="#00aa00" stroke-width="1.1" fill="none"/>
<circle cx="622.10" cy="97.75" r="2.65" fill="#00aa00"/>
<path d="M642.20 66.10V75.30M638.39 68.50L646.01 72.90M646.01 68.50L638.39 72.90" stroke="#00aa00" stroke-width="1.1" fill="none"/>
<circle cx="626.90" cy="159.65" r="2.65" fill="#ff0000"/>
<path d="M642.20 141.60V150.80M638.39 144.00L646.01 148.40M646.01 144.00L638.39 148.40" stroke="#ff0000" stroke-width="1.1" fill="none"/>
<circle cx="636.30" cy="224.30" r="2.65" fill="#0000ff"/>
<path d="M642.45 217.15V226.35M638.64 219.55L646.26 223.95M646.26 219.55L638.64 223.95" stroke="#0000ff" stroke-width="1.1" fill="none"/>
</g>
<path d="M441.70 255.9V251.9" stroke="#000" stroke-width="1.9"/>
<path d="M488.05 255.9V251.9" stroke="#000" stroke-width="1.9"/>
<path d="M534.40 255.9V251.9" stroke="#000" stroke-width="1.9"/>
<path d="M580.75 255.9V251.9" stroke="#000" stroke-width="1.9"/>
<path d="M627.10 255.9V251.9" stroke="#000" stroke-width="1.9"/>
<path d="M673.45 255.9V251.9" stroke="#000" stroke-width="1.9"/>
<path d="M719.80 255.9V251.9" stroke="#000" stroke-width="1.9"/>
<path d="M432.3 123.8H436.5" stroke="#000" stroke-width="1.9"/>
<path d="M432.3 222.8H436.5" stroke="#000" stroke-width="1.9"/>
<rect x="432.3" y="24.55" width="296.74999999999994" height="231.35" fill="none" stroke="#000" stroke-width="2.0"/>
<g font-family="Liberation Sans, sans-serif" fill="#000">
<text x="51.3" y="25.15" font-size="12.5" text-anchor="end">0.5</text>
<text x="51.3" y="121.1" font-size="12.5" text-anchor="end">0.3</text>
<text x="51.3" y="217.1" font-size="12.5" text-anchor="end">0.1</text>
<text x="429.2" y="29.4" font-size="12.5" text-anchor="end">0.14</text>
<text x="429.2" y="128.3" font-size="12.5" text-anchor="end">0.08</text>
<text x="429.2" y="227.3" font-size="12.5" text-anchor="end">0.02</text>
<text x="112.2" y="275.1" font-size="13" text-anchor="middle" letter-spacing="0.4"><tspan font-style="italic">π</tspan>/2<tspan font-style="italic">ω</tspan></text>
<text x="208.3" y="275.1" font-size="13" text-anchor="middle" letter-spacing="0.4"><tspan font-style="italic">π</tspan>/<tspan font-style="italic">ω</tspan></text>
<text x="303.9" y="275.1" font-size="13" text-anchor="middle" letter-spacing="0.4">3<tspan font-style="italic">π</tspan>/2<tspan font-style="italic">ω</tspan></text>
<text x="488.7" y="271.3" font-size="13" text-anchor="middle" letter-spacing="0.4"><tspan font-style="italic">π</tspan>/2<tspan font-style="italic">ω</tspan></text>
<text x="581.4" y="271.3" font-size="13" text-anchor="middle" letter-spacing="0.4"><tspan font-style="italic">π</tspan>/<tspan font-style="italic">ω</tspan></text>
<text x="673.7" y="271.3" font-size="13" text-anchor="middle" letter-spacing="0.4">3<tspan font-style="italic">π</tspan>/2<tspan font-style="italic">ω</tspan></text>
<text x="208" y="295.6" font-size="13.6" text-anchor="middle" font-style="italic">δ</text>
<text x="581" y="291.8" font-size="13.6" text-anchor="middle" font-style="italic">δ</text>
<text x="22.8" y="142.1" font-size="12.5" text-anchor="middle" font-style="italic">η</text>
<path d="M387.0 140.1C385.6 139.3 386.2 137.4 388.1 136.4C390 135.3 392.5 134.8 394 135.2C396.3 135.8 396.3 138 394.5 139.4C393.3 140.3 391.8 140.7 390.5 140.6M390.4 136.6C389.6 139.5 388.5 142.5 387.3 144.8" stroke="#000" stroke-width="1.15" fill="none" stroke-linecap="round"/>
<path d="M147 45H159.2" stroke="#000000" stroke-width="1.8"/>
<text x="164.5" y="48.70" font-size="10.9" letter-spacing="0.04">Tf<tspan font-size="8" dy="2">1</tspan><tspan dy="-2" dx="0.4">=0.3</tspan></text>
<path d="M212.5 45H224.7" stroke="#ff0000" stroke-width="1.8"/>
<text x="229.8" y="48.70" font-size="10.9" letter-spacing="0.04">Tf<tspan font-size="8" dy="2">1</tspan><tspan dy="-2" dx="0.4">=1</tspan></text>
<path d="M147 65.4H159.2" stroke="#0000ff" stroke-width="1.8"/>
<text x="164.5" y="69.10" font-size="10.9" letter-spacing="0.04">Tf<tspan font-size="8" dy="2">1</tspan><tspan dy="-2" dx="0.4">=0.8</tspan></text>
<path d="M212.5 65.4H224.7" stroke="#00aa00" stroke-width="1.8"/>
<text x="229.8" y="69.10" font-size="10.9" letter-spacing="0.04">Tf<tspan font-size="8" dy="2">1</tspan><tspan dy="-2" dx="0.4">=1.2</tspan></text>
<path d="M490.4 59.5H502.59999999999997" stroke="#000000" stroke-width="1.8"/>
<text x="507.7" y="63.20" font-size="10.9" letter-spacing="0.04">Tf<tspan font-size="8" dy="2">1</tspan><tspan dy="-2" dx="0.4">=0.3</tspan></text>
<path d="M555.7 59.5H567.9000000000001" stroke="#ff0000" stroke-width="1.8"/>
<text x="573.0" y="63.20" font-size="10.9" letter-spacing="0.04">Tf<tspan font-size="8" dy="2">1</tspan><tspan dy="-2" dx="0.4">=1</tspan></text>
<path d="M490.4 80H502.59999999999997" stroke="#0000ff" stroke-width="1.8"/>
<text x="507.7" y="83.70" font-size="10.9" letter-spacing="0.04">Tf<tspan font-size="8" dy="2">1</tspan><tspan dy="-2" dx="0.4">=0.8</tspan></text>
<path d="M555.7 80H567.9000000000001" stroke="#00aa00" stroke-width="1.8"/>
<text x="573.0" y="83.70" font-size="10.9" letter-spacing="0.04">Tf<tspan font-size="8" dy="2">1</tspan><tspan dy="-2" dx="0.4">=1.2</tspan></text>
</g>
</svg>
</body></html>
